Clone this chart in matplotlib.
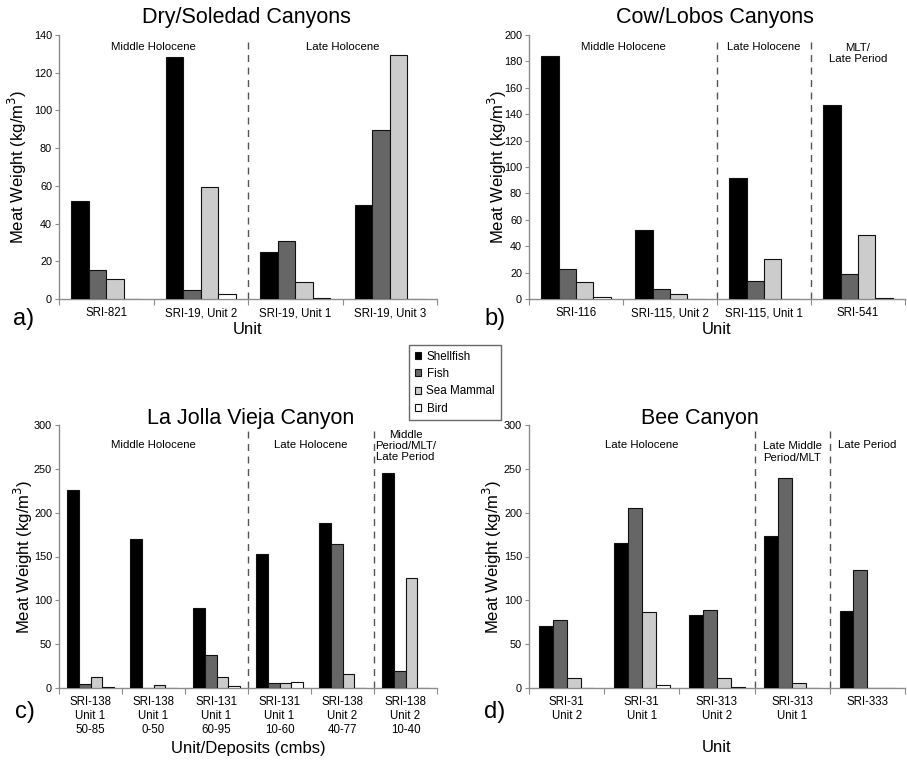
import matplotlib
matplotlib.use('Agg')
import matplotlib.pyplot as plt
import numpy as np
from matplotlib.patches import Patch
from matplotlib.transforms import blended_transform_factory

plt.rcParams['font.family'] = ['Liberation Sans', 'DejaVu Sans']

series = ['Shellfish', 'Fish', 'Sea Mammal', 'Bird']
colors = ['#000000', '#666666', '#cccccc', '#ffffff']

# Panel a: Dry/Soledad Canyons
a_units = ['SRI-821', 'SRI-19, Unit 2', 'SRI-19, Unit 1', 'SRI-19, Unit 3']
a_shellfish = [52.1, 128.5, 24.9, 50.0]
a_fish = [15.2, 4.8, 30.8, 89.8]
a_seamammal = [10.4, 59.2, 8.8, 129.3]
a_bird = [0.0, 2.8, 0.7, 0.2]

# Panel b: Cow/Lobos Canyons
b_units = ['SRI-116', 'SRI-115, Unit 2', 'SRI-115, Unit 1', 'SRI-541']
b_shellfish = [184.0, 52.3, 91.9, 146.7]
b_fish = [22.5, 7.6, 13.6, 19.2]
b_seamammal = [13.1, 3.8, 30.3, 48.7]
b_bird = [1.5, 0.0, 0.0, 0.5]

# Panel c: La Jolla Vieja Canyon
c_units = ['SRI-138\nUnit 1\n50-85', 'SRI-138\nUnit 1\n0-50', 'SRI-131\nUnit 1\n60-95',
           'SRI-131\nUnit 1\n10-60', 'SRI-138\nUnit 2\n40-77', 'SRI-138\nUnit 2\n10-40']
c_shellfish = [225.6, 169.4, 90.8, 153.0, 188.4, 245.7]
c_fish = [4.2, 0.0, 37.6, 6.1, 164.4, 19.0]
c_seamammal = [12.5, 3.0, 12.5, 6.1, 16.5, 125.0]
c_bird = [1.1, 0.0, 1.9, 6.5, 0.0, 0.0]

# Panel d: Bee Canyon
d_units = ['SRI-31\nUnit 2', 'SRI-31\nUnit 1', 'SRI-313\nUnit 2', 'SRI-313\nUnit 1', 'SRI-333']
d_shellfish = [70.4, 165.0, 83.5, 173.9, 88.0]
d_fish = [77.6, 205.0, 89.2, 239.3, 134.8]
d_seamammal = [11.4, 86.6, 11.8, 5.7, 0.0]
d_bird = [0.0, 3.0, 1.1, 0.0, 0.0]

W, H = 907, 760
fig = plt.figure(figsize=(W / 100, H / 100), dpi=100)


def fx(px):
    return px / W


def fy(py):
    return 1 - py / H


def make_axes(l, t, r, b):
    return fig.add_axes([fx(l), fy(b), fx(r) - fx(l), fy(t) - fy(b)])


SPINE = '#8c8c8c'


def draw_panel(ax, units, vals, ymax, ystep, dividers, periods, ylab_x):
    n = len(units)
    x = np.arange(n)
    w = 0.185
    for i, (v, c) in enumerate(zip(vals, colors)):
        ax.bar(x + (i - 1.5) * w, v, width=w, color=c, edgecolor='#111111',
               linewidth=0.8, zorder=3)
    ax.set_xlim(-0.5, n - 0.5)
    ax.set_ylim(0, ymax)
    ax.set_yticks(np.arange(0, ymax + 1, ystep))
    ax.set_xticks(np.arange(-0.5, n, 1.0))
    ax.set_xticklabels([])
    ax.set_xticks(x, minor=True)
    ax.set_xticklabels(units, minor=True, fontsize=8.3, linespacing=1.2)
    ax.tick_params(axis='x', which='major', length=4, color=SPINE, direction='out')
    ax.tick_params(axis='x', which='minor', length=0, pad=6)
    ax.tick_params(axis='y', length=3, color=SPINE, labelsize=7.8, pad=2)
    for s in ['top', 'right']:
        ax.spines[s].set_visible(False)
    for s in ['left', 'bottom']:
        ax.spines[s].set_color(SPINE)
        ax.spines[s].set_linewidth(1.0)
    for d in dividers:
        ax.axvline(d, ymin=0, ymax=0.98, color='#555555', linestyle=(0, (5, 4)),
                   linewidth=1.0, zorder=2)
    tr = blended_transform_factory(ax.transData, ax.transAxes)
    for px, py, txt in periods:
        ax.text(px, py, txt, transform=tr, ha='center', va='center',
                fontsize=8.2, linespacing=1.15)
    ax.set_ylabel('Meat Weight (kg/m$^3$)', fontsize=12, va='center')
    ax.yaxis.set_label_coords(ylab_x, 0.5)


ax_a = make_axes(59, 35, 437, 299)
draw_panel(ax_a, a_units, [a_shellfish, a_fish, a_seamammal, a_bird], 140, 20,
           [1.5], [(0.5, 0.955, 'Middle Holocene'), (2.5, 0.955, 'Late Holocene')],
           -0.110)

ax_b = make_axes(529, 35, 905, 299)
draw_panel(ax_b, b_units, [b_shellfish, b_fish, b_seamammal, b_bird], 200, 20,
           [1.5, 2.5], [(0.5, 0.955, 'Middle Holocene'), (2.0, 0.955, 'Late Holocene'),
                        (3.0, 0.93, 'MLT/\nLate Period')],
           -0.085)

ax_c = make_axes(59, 425, 437, 688)
draw_panel(ax_c, c_units, [c_shellfish, c_fish, c_seamammal, c_bird], 300, 50,
           [2.5, 4.5], [(1.0, 0.923, 'Middle Holocene'), (3.5, 0.923, 'Late Holocene'),
                        (5.0, 0.92, 'Middle\nPeriod/MLT/\nLate Period')],
           -0.093)

ax_d = make_axes(529, 425, 905, 688)
draw_panel(ax_d, d_units, [d_shellfish, d_fish, d_seamammal, d_bird], 300, 50,
           [2.5, 3.5], [(1.0, 0.923, 'Late Holocene'), (3.0, 0.897, 'Late Middle\nPeriod/MLT'),
                        (4.0, 0.923, 'Late Period')],
           -0.096)

# titles
for txt, px, py in [('Dry/Soledad Canyons', 246, 18), ('Cow/Lobos Canyons', 715, 18),
                    ('La Jolla Vieja Canyon', 251, 418), ('Bee Canyon', 700, 418)]:
    fig.text(fx(px), fy(py), txt, ha='center', va='center', fontsize=15.5)

# x labels
for txt, px, py in [('Unit', 248, 330), ('Unit', 717, 330),
                    ('Unit/Deposits (cmbs)', 248, 748), ('Unit', 717, 748)]:
    fig.text(fx(px), fy(py), txt, ha='center', va='center', fontsize=12)

# panel letters
for txt, px, py in [('a)', 24, 319), ('b)', 495, 319), ('c)', 25, 712), ('d)', 495, 712)]:
    fig.text(fx(px), fy(py), txt, ha='center', va='center', fontsize=17)

handles = [Patch(facecolor=c, edgecolor='#111111', linewidth=0.8) for c in colors]
leg = fig.legend(handles, series, loc='upper left', bbox_to_anchor=(fx(409), fy(345)),
                 fontsize=8.4, frameon=True, fancybox=False, handlelength=0.55,
                 handleheight=0.55, handletextpad=0.45, labelspacing=0.45,
                 borderpad=0.5, borderaxespad=0)
leg.get_frame().set_edgecolor('#444444')
leg.get_frame().set_linewidth(1.0)

fig.savefig('out.png', dpi=100)
